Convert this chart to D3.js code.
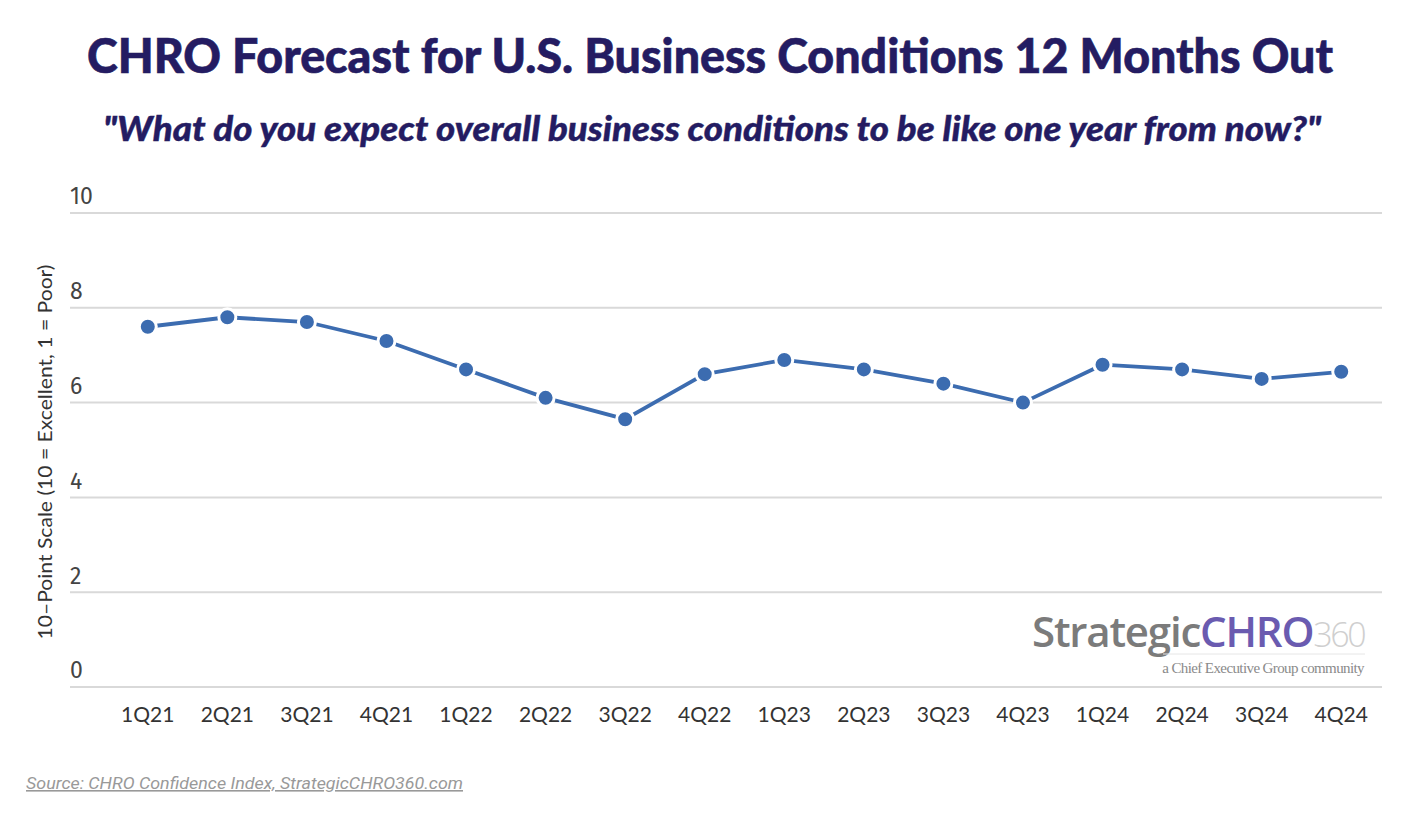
<!DOCTYPE html>
<html>
<head>
<meta charset="utf-8">
<script src="https://cdn.jsdelivr.net/npm/d3@7/dist/d3.min.js"></script>
<style>
  html, body { margin: 0; padding: 0; background: #fff; }
  svg { display: block; }
</style>
</head>
<body>
<svg id="chart" width="1424" height="828"></svg>
<script>
const quarters = ["1Q21","2Q21","3Q21","4Q21","1Q22","2Q22","3Q22","4Q22","1Q23","2Q23","3Q23","4Q23","1Q24","2Q24","3Q24","4Q24"];
const forecastValues = [7.6, 7.8, 7.7, 7.3, 6.7, 6.1, 5.65, 6.6, 6.9, 6.7, 6.4, 6.0, 6.8, 6.7, 6.5, 6.65];
const yTicks = [0, 2, 4, 6, 8, 10];
const titleText = "CHRO Forecast for U.S. Business Conditions 12 Months Out";
const subtitleText = "\"What do you expect overall business conditions to be like one year from now?\"";
const yAxisTitle = "10\u2013Point Scale (10 = Excellent, 1 = Poor)";
const sourceText = "Source: CHRO Confidence Index, StrategicCHRO360.com";

const svg = d3.select("#chart");
const navy = "#241c62";
const lineColor = "#3c6cb0";

// Title
svg.append("text")
  .attr("x", 710).attr("y", 73)
  .attr("text-anchor", "middle")
  .attr("font-family", "Lato, 'Open Sans', sans-serif")
  .attr("font-weight", 900)
  .attr("font-size", 47)
  .attr("fill", navy)
  .attr("stroke", navy)
  .attr("stroke-width", 0.6)
  .attr("textLength", 1246)
  .attr("lengthAdjust", "spacingAndGlyphs")
  .text(titleText);

svg.append("text")
  .attr("x", 712).attr("y", 141)
  .attr("text-anchor", "middle")
  .attr("font-family", "Lato, 'Open Sans', sans-serif")
  .attr("font-weight", 900)
  .attr("font-style", "italic")
  .attr("font-size", 35)
  .attr("fill", navy)
  .attr("stroke", navy)
  .attr("stroke-width", 0.4)
  .attr("textLength", 1218)
  .attr("lengthAdjust", "spacingAndGlyphs")
  .text(subtitleText);

// Scales
const x = d3.scaleBand().domain(quarters).range([108, 1381]);
const y = d3.scaleLinear().domain([0, 10]).range([687, 213]);

// Gridlines
const grid = svg.append("g");
grid.selectAll("line").data(yTicks).join("line")
  .attr("x1", 70).attr("x2", 1382)
  .attr("y1", d => y(d)).attr("y2", d => y(d))
  .attr("stroke", "#d9d9d9").attr("stroke-width", 2);

// Y tick labels (above gridlines)
const yAxis = d3.axisLeft(y).tickValues(yTicks).tickSize(0).tickFormat(d3.format("d"));
const yG = svg.append("g").attr("transform", "translate(70,0)").call(yAxis);
yG.select(".domain").remove();
yG.selectAll("text")
  .attr("x", 0).attr("dy", "-0.4em")
  .attr("text-anchor", "start")
  .attr("font-family", "'Fira Sans', Lato, 'Open Sans', sans-serif")
  .attr("font-size", 23)
  .attr("fill", "#444");

// X tick labels
const xAxis = d3.axisBottom(x).tickSize(0);
const xG = svg.append("g").attr("transform", "translate(0,699)").call(xAxis);
xG.select(".domain").remove();
xG.selectAll("text")
  .attr("dy", "0.95em")
  .attr("font-family", "Lato, 'Open Sans', sans-serif")
  .attr("font-size", 21)
  .attr("fill", "#333");

// Y axis title
svg.append("text")
  .attr("transform", "translate(52,452) rotate(-90)")
  .attr("text-anchor", "middle")
  .attr("font-family", "Lato, 'Open Sans', sans-serif")
  .attr("font-size", 20)
  .attr("fill", "#333")
  .attr("textLength", 375)
  .attr("lengthAdjust", "spacingAndGlyphs")
  .text(yAxisTitle);

// Logo
const logo = svg.append("g");
logo.append("rect").attr("x", 1028).attr("y", 598).attr("width", 345).attr("height", 84).attr("fill", "#fff");
const lt = logo.append("text")
  .attr("x", 1032).attr("y", 647)
  .attr("font-family", "'Open Sans', 'Noto Sans', sans-serif")
  .attr("font-size", 42)
  .attr("letter-spacing", -1.2);
lt.append("tspan").attr("font-weight", 600).attr("fill", "#7b7b7b").text("Strategic");
lt.append("tspan").attr("font-weight", 600).attr("fill", "#6a5bb0").text("CHRO");
lt.append("tspan").attr("font-weight", 300).attr("fill", "#cfcfcf").attr("font-size", 34).attr("letter-spacing", -2.5).text("360");
logo.append("line").attr("x1", 1163).attr("x2", 1365).attr("y1", 654).attr("y2", 654).attr("stroke", "#e6e6e6").attr("stroke-width", 1);
logo.append("text")
  .attr("x", 1364).attr("y", 673)
  .attr("text-anchor", "end")
  .attr("font-family", "'Liberation Serif', 'DejaVu Serif', serif")
  .attr("font-size", 15)
  .attr("letter-spacing", -0.6)
  .attr("fill", "#8a8a8a")
  .text("a Chief Executive Group community");

// Line
const cx = d => x(d) + x.bandwidth() / 2;
const line = d3.line().x((d, i) => cx(quarters[i])).y(d => y(d));
svg.append("path")
  .datum(forecastValues)
  .attr("d", line)
  .attr("fill", "none")
  .attr("stroke", lineColor)
  .attr("stroke-width", 3.8);

svg.append("g").selectAll("circle").data(forecastValues).join("circle")
  .attr("cx", (d, i) => cx(quarters[i]))
  .attr("cy", d => y(d))
  .attr("r", 8.5)
  .attr("fill", lineColor)
  .attr("stroke", "#fff")
  .attr("stroke-width", 3);

// Source
svg.append("text")
  .attr("x", 26).attr("y", 789)
  .attr("font-family", "Roboto, sans-serif")
  .attr("font-style", "italic")
  .attr("font-size", 16)
  .attr("fill", "#999")
  .attr("text-decoration", "underline")
  .attr("textLength", 437)
  .attr("lengthAdjust", "spacingAndGlyphs")
  .text(sourceText);
</script>
</body>
</html>
